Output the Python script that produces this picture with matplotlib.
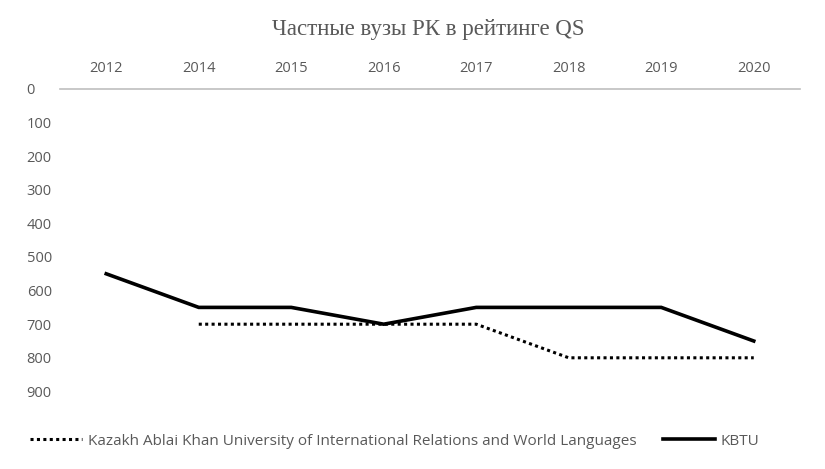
import matplotlib.pyplot as plt

plt.rcParams['font.family'] = ['Liberation Sans Narrow', 'Open Sans', 'DejaVu Sans']

years = ['2012', '2014', '2015', '2016', '2017', '2018', '2019', '2020']
ablai_khan = [None, 700, 700, 700, 700, 800, 800, 800]
kbtu = [550, 650, 650, 700, 650, 650, 650, 750]
yticks = [0, 100, 200, 300, 400, 500, 600, 700, 800, 900]

grey = '#595959'
x = list(range(len(years)))

fig = plt.figure(figsize=(8.25, 4.69), dpi=100)
ax = fig.add_axes([60/825, 1 - 425/469, (800-60)/825, (425-89)/469])

xa = [i for i, v in zip(x, ablai_khan) if v is not None]
ya = [v for v in ablai_khan if v is not None]
ax.plot(xa, ya, color='black', lw=2.2, linestyle=(0, (1, 1.1)),
        label='Kazakh Ablai Khan University of International Relations and World Languages')
ax.plot(x, kbtu, color='black', lw=2.6, label='KBTU', solid_joinstyle='miter')

ax.set_xlim(-0.5, 7.5)
ax.set_ylim(1000, 0)
ax.set_yticks(yticks)
ax.set_xticks(x)
ax.set_xticklabels(years)
ax.xaxis.tick_top()
ax.tick_params(axis='both', length=0, colors=grey, labelsize=10.5)
ax.tick_params(axis='x', pad=9)
ax.tick_params(axis='y', pad=24)
for lbl in ax.get_yticklabels():
    lbl.set_horizontalalignment('left')
for s in ['right', 'bottom', 'left']:
    ax.spines[s].set_visible(False)
ax.spines['top'].set_color('#bfbfbf')
ax.spines['top'].set_linewidth(1.2)

fig.text(428/825, 1 - 29/469, 'Частные вузы РК в рейтинге QS', ha='center', va='center',
         fontsize=16.5, color=grey, family=['Liberation Serif', 'DejaVu Serif'])

leg = fig.legend(loc='center', bbox_to_anchor=(395/825, 1 - 441/469), ncol=2, frameon=False,
                 fontsize=11, handlelength=3.4, columnspacing=1.7, handletextpad=0.4)
for t in leg.get_texts():
    t.set_color(grey)

plt.savefig('out.png', dpi=100)
